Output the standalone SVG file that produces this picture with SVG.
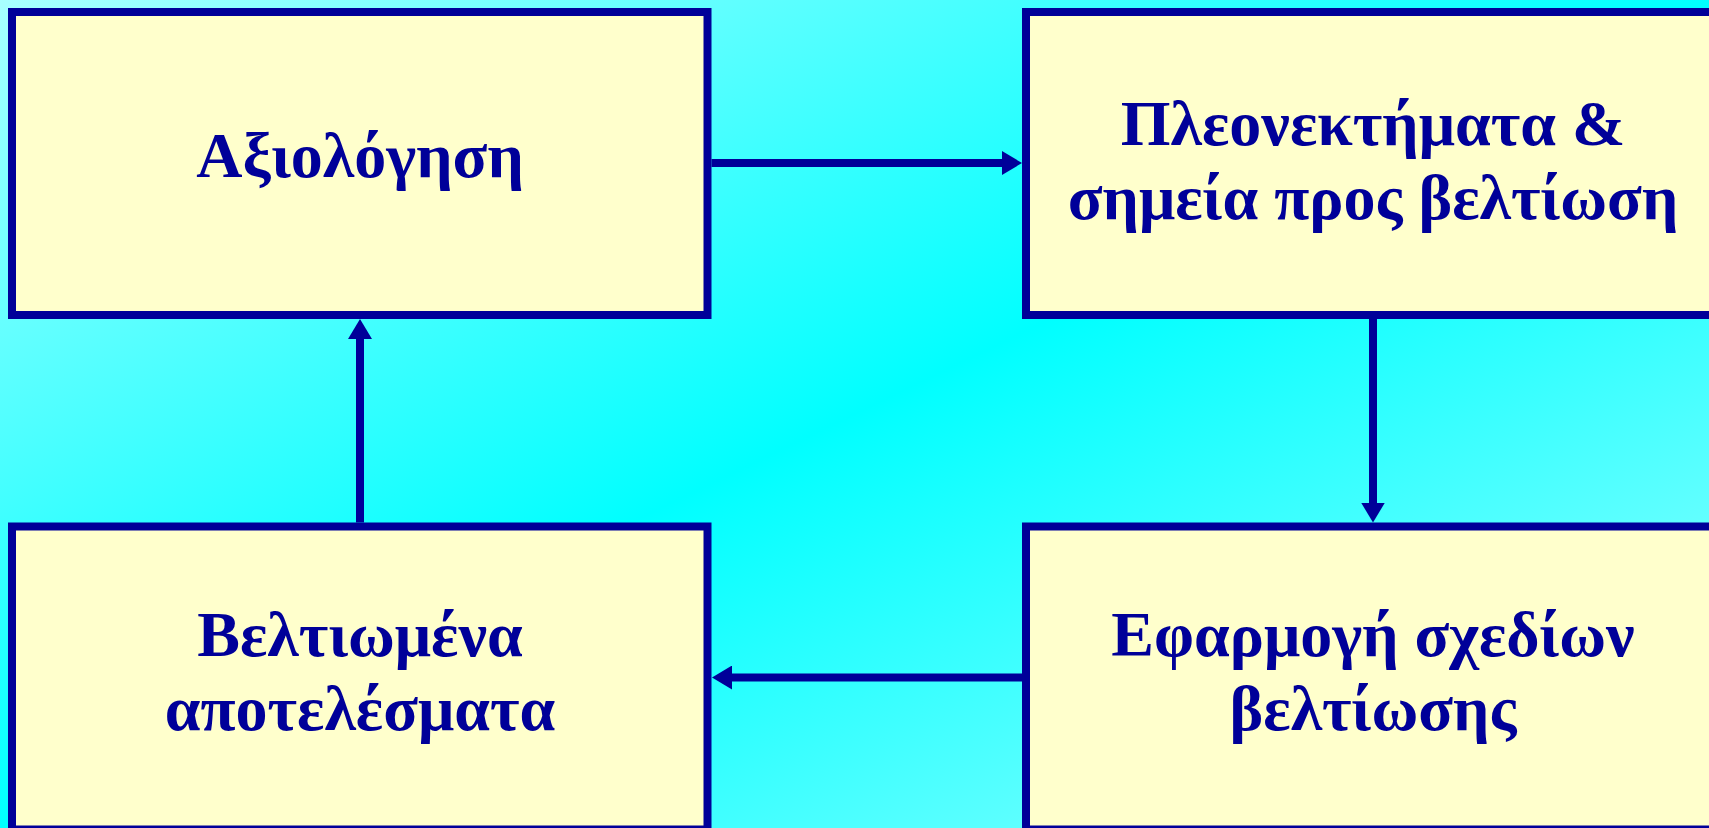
<svg xmlns="http://www.w3.org/2000/svg" width="1709" height="828" viewBox="0 0 1709 828">
  <defs>
    <linearGradient id="bg" x1="0" y1="0" x2="1" y2="1">
      <stop offset="0" stop-color="#a8ffff"/>
      <stop offset="0.5" stop-color="#00ffff"/>
      <stop offset="1" stop-color="#9cffff"/>
    </linearGradient>
    <marker id="arrow" markerUnits="userSpaceOnUse" markerWidth="20" markerHeight="24" viewBox="0 0 20 24" refX="1" refY="12" orient="auto">
      <path d="M0,0 L20,12 L0,24 Z" fill="#000099"/>
    </marker>
    <style>
      .box { fill: #ffffcc; stroke: #000099; stroke-width: 8; }
      .lbl { font-family: "Liberation Serif", "Times New Roman", serif; font-weight: bold; font-size: 64px; fill: #000099; text-anchor: middle; }
      .conn { stroke: #000099; stroke-width: 8; fill: none; marker-end: url(#arrow); }
    </style>
  </defs>
  <rect x="0" y="0" width="1709" height="828" fill="url(#bg)"/>

  <g id="node-axiologisi">
    <rect class="box" x="12" y="12" width="695.5" height="303"/>
    <text class="lbl" x="360" y="177">Αξιολόγηση</text>
  </g>
  <g id="node-pleonektimata">
    <rect class="box" x="1026" y="12" width="695.5" height="303"/>
    <text class="lbl" x="1373" y="145">Πλεονεκτήματα &amp;</text>
    <text class="lbl" x="1373" y="219">σημεία προς βελτίωση</text>
  </g>
  <g id="node-efarmogi">
    <rect class="box" x="1026" y="526.5" width="695.5" height="303"/>
    <text class="lbl" x="1373" y="656">Εφαρμογή σχεδίων</text>
    <text class="lbl" x="1373" y="730">βελτίωσης</text>
  </g>
  <g id="node-veltiomena">
    <rect class="box" x="12" y="526.5" width="695.5" height="303"/>
    <text class="lbl" x="360" y="656">Βελτιωμένα</text>
    <text class="lbl" x="360" y="730">αποτελέσματα</text>
  </g>

  <g id="connectors">
    <line class="conn" x1="711.5" y1="163" x2="1003" y2="163"/>
    <line class="conn" x1="1373" y1="319" x2="1373" y2="503.5"/>
    <line class="conn" x1="1022" y1="677.5" x2="731" y2="677.5"/>
    <line class="conn" x1="360" y1="522.5" x2="360" y2="338"/>
  </g>
</svg>
